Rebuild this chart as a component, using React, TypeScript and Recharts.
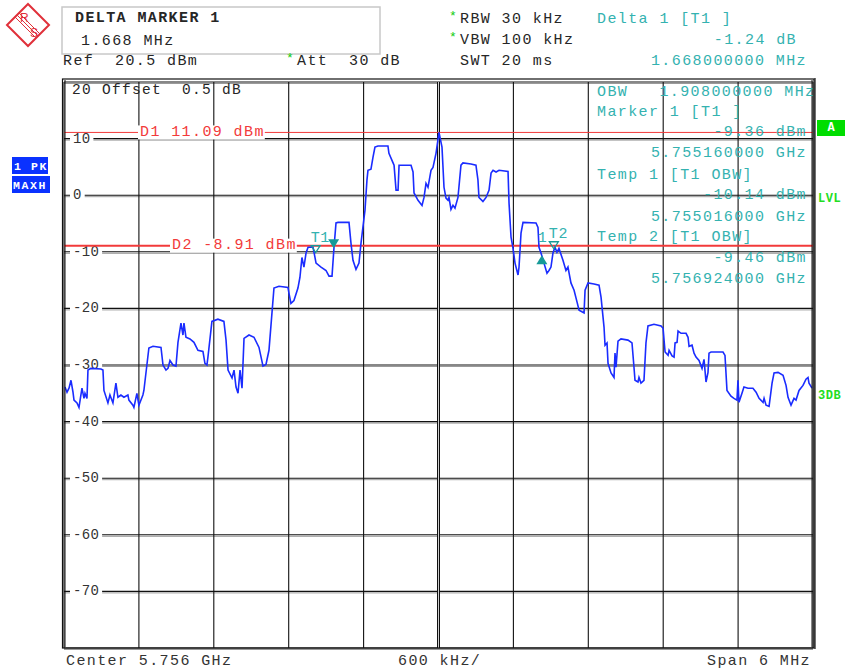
import { LineChart, Line, XAxis, YAxis, ReferenceLine, ReferenceDot } from "recharts";

// trace: frequency offset from centre (MHz) and level (dBm)
const FREQ_MHZ = [
  -2.992, -2.976, -2.96, -2.944, -2.928, -2.92, -2.896, -2.88, -2.856, -2.84,
  -2.832, -2.816, -2.808, -2.784, -2.704, -2.688, -2.68, -2.648, -2.632, -2.608,
  -2.584, -2.568, -2.544, -2.52, -2.488, -2.48, -2.448, -2.44, -2.416, -2.4,
  -2.368, -2.36, -2.32, -2.287, -2.223, -2.207, -2.183, -2.167, -2.151, -2.127,
  -2.103, -2.087, -2.063, -2.047, -2.039, -2.023, -1.991, -1.959, -1.927, -1.887,
  -1.871, -1.855, -1.847, -1.815, -1.767, -1.719, -1.702, -1.686, -1.654, -1.638,
  -1.622, -1.606, -1.59, -1.574, -1.558, -1.518, -1.478, -1.438, -1.406, -1.382,
  -1.358, -1.318, -1.278, -1.206, -1.198, -1.182, -1.158, -1.126, -1.11, -1.094,
  -1.078, -1.061, -1.045, -1.005, -0.997, -0.981, -0.941, -0.901, -0.877, -0.853,
  -0.837, -0.821, -0.805, -0.717, -0.701, -0.685, -0.661, -0.637, -0.621, -0.597,
  -0.589, -0.573, -0.565, -0.541, -0.525, -0.509, -0.485, -0.405, -0.397, -0.364,
  -0.356, -0.34, -0.324, -0.316, -0.22, -0.204, -0.196, -0.164, -0.132, -0.116,
  -0.1, -0.084, -0.06, -0.044, -0.02, 0.004, 0.028, 0.044, 0.06, 0.076,
  0.084, 0.1, 0.116, 0.132, 0.156, 0.18, 0.196, 0.26, 0.3, 0.316,
  0.324, 0.356, 0.381, 0.405, 0.421, 0.437, 0.461, 0.485, 0.557, 0.565,
  0.581, 0.597, 0.613, 0.637, 0.645, 0.661, 0.677, 0.781, 0.797, 0.805,
  0.821, 0.845, 0.869, 0.885, 0.901, 0.917, 0.933, 0.949, 0.965, 0.997,
  1.021, 1.037, 1.061, 1.086, 1.11, 1.126, 1.166, 1.174, 1.198, 1.246,
  1.286, 1.302, 1.326, 1.334, 1.35, 1.358, 1.382, 1.406, 1.414, 1.422,
  1.438, 1.462, 1.518, 1.55, 1.566, 1.574, 1.598, 1.606, 1.622, 1.646,
  1.662, 1.678, 1.726, 1.783, 1.799, 1.815, 1.839, 1.847, 1.871, 1.887,
  1.895, 1.911, 1.919, 1.943, 1.983, 1.999, 2.007, 2.031, 2.047, 2.063,
  2.087, 2.111, 2.127, 2.143, 2.159, 2.167, 2.183, 2.279, 2.295, 2.311,
  2.343, 2.367, 2.391, 2.399, 2.407, 2.431, 2.447, 2.479, 2.519, 2.544,
  2.568, 2.6, 2.608, 2.624, 2.648, 2.672, 2.688, 2.72, 2.76, 2.784,
  2.8, 2.824, 2.848, 2.864, 2.888, 2.92, 2.944, 2.96, 2.968, 2.992,
];

const LEVEL_DBM = [
  -33.9, -34.8, -34.1, -32.7, -34.8, -36.2, -36.7, -37.5, -34.1, -35.9,
  -35.0, -35.9, -30.9, -30.6, -30.7, -30.9, -34.5, -36.7, -35.3, -36.7,
  -33.2, -35.7, -35.3, -35.7, -35.3, -36.2, -37.1, -37.5, -35.0, -37.1,
  -35.3, -34.5, -27.0, -26.7, -26.9, -30.0, -30.9, -30.6, -29.2, -30.0,
  -30.2, -26.0, -22.6, -24.7, -22.6, -25.1, -25.4, -26.0, -27.4, -27.6,
  -29.7, -30.0, -28.6, -22.3, -21.9, -22.3, -25.6, -30.9, -32.3, -30.9,
  -33.9, -35.0, -30.9, -34.1, -25.3, -24.7, -25.1, -26.9, -30.2, -29.9,
  -27.4, -16.4, -16.1, -16.3, -17.3, -19.1, -18.6, -16.4, -14.5, -11.0,
  -12.7, -10.2, -9.2, -9.2, -10.1, -12.0, -12.7, -13.3, -14.3, -14.3,
  -9.2, -4.9, -4.8, -4.8, -8.5, -11.5, -13.1, -12.0, -8.5, -4.1,
  -2.7, 2.7, 4.4, 4.6, 6.7, 8.5, 8.7, 8.7, 7.4, 5.7,
  5.3, 0.9, 0.9, 5.3, 5.3, 4.1, 0.4, -0.9, -1.8, -0.4,
  2.1, 1.4, 4.4, 4.9, 7.4, 11.09, 8.5, 1.4, -0.5, -0.9,
  -0.4, -2.5, -1.8, -2.3, -0.4, 5.3, 5.7, 5.5, 5.3, 2.7,
  -0.4, -1.1, -0.4, 0.9, 3.9, 4.4, 4.1, 4.4, 4.2, -1.4,
  -7.4, -9.4, -12.0, -14.1, -12.7, -6.7, -4.8, -4.9, -5.7, -9.2,
  -10.2, -12.0, -13.8, -13.3, -12.7, -10.2, -9.2, -10.1, -9.4, -11.5,
  -13.3, -12.7, -15.5, -16.8, -18.9, -20.3, -20.8, -16.8, -15.5, -15.7,
  -15.9, -18.0, -23.3, -26.5, -26.1, -29.7, -31.4, -32.2, -27.9, -30.4,
  -25.8, -25.4, -25.6, -26.1, -30.4, -32.7, -33.0, -32.2, -33.2, -32.7,
  -26.1, -23.1, -22.8, -23.1, -23.5, -27.7, -28.3, -27.4, -28.4, -28.6,
  -26.1, -26.0, -24.0, -24.4, -24.4, -25.1, -26.7, -26.5, -27.9, -28.6,
  -29.2, -30.6, -29.0, -33.0, -31.3, -27.9, -27.7, -27.7, -28.3, -34.5,
  -35.5, -35.9, -36.2, -32.7, -36.6, -35.0, -33.9, -34.1, -34.1, -34.8,
  -35.9, -36.6, -35.9, -37.1, -37.3, -33.2, -31.4, -31.3, -31.8, -33.6,
  -35.7, -37.1, -35.9, -36.2, -34.5, -33.6, -32.5, -32.2, -33.2, -34.1,
];

const X_TICKS = [-3, -2.4, -1.8, -1.2, -0.6, 0, 0.6, 1.2, 1.8, 2.4, 3];
const Y_TICKS = [-80, -70, -60, -50, -40, -30, -20, -10, 0, 10, 20];
const Y_LABELS = [10, 0, -10, -20, -30, -40, -50, -60, -70];

// display lines D1 / D2
const DISPLAY_LINE_NAMES = ["D1", "D2"];
const DISPLAY_LINE_DBM = [11.09, -8.91];

// markers: T1, marker 1, delta 1, T2
const MARKER_LABELS = ["T1", "", "1", "T2"];
const MARKER_FREQ = [-0.984, -0.84, 0.828, 0.924];
const MARKER_DBM = [-10.14, -9.36, -10.6, -9.46];
const MARKER_SHAPES = ["open", "down", "up", "open"];

const data = FREQ_MHZ.map((f, i) => ({ f, dbm: LEVEL_DBM[i] }));

const MONO = "'Liberation Mono', 'DejaVu Sans Mono', monospace";
const TEAL = "#34b2b0";
const MARK_TEAL = "#179a98";
const RED = "#f23a3a";
const INK = "#262626";

function T({ x, y, children, anchor = "start", color = INK, weight = 400, size = 15, ls = 1.4 }: any) {
  return (
    <text
      x={x}
      y={y}
      textAnchor={anchor}
      dominantBaseline="central"
      fill={color}
      fontWeight={weight}
      fontSize={size}
      letterSpacing={ls}
      fontFamily={MONO}
      style={{ whiteSpace: "pre" }}
    >
      {children}
    </text>
  );
}

function yLabel(v: number) {
  const label = String(v);
  return (props: any) => {
    const vb = props.viewBox || {};
    const x0 = (vb.x ?? 0) + 9;
    const y0 = vb.y ?? 0;
    return (
      <g>
        <rect x={x0 - 3} y={y0 - 7} width={label.length * 8.7 + 6} height={14} fill="#fff" />
        <T x={x0} y={y0} size={14} ls={0.3} color="#333">{label}</T>
      </g>
    );
  };
}

function topLabel(props: any) {
  const vb = props.viewBox || {};
  const x0 = (vb.x ?? 0) + 8;
  const y0 = (vb.y ?? 0) + 8;
  return <T x={x0} y={y0} size={14.5} ls={1.3}>{"20 Offset  0.5 dB"}</T>;
}

function displayLineLabel(i: number) {
  const name = DISPLAY_LINE_NAMES[i];
  const text = `${name} ${DISPLAY_LINE_DBM[i].toFixed(2)} dBm`;
  const offset = i === 0 ? 76 : 108;
  return (props: any) => {
    const vb = props.viewBox || {};
    const x0 = (vb.x ?? 0) + offset;
    const y0 = vb.y ?? 0;
    return (
      <g>
        <rect x={x0 - 2} y={y0 - 7} width={text.length * 10.4 + 2} height={14} fill="#fff" />
        <T x={x0} y={y0} color={RED}>{text}</T>
      </g>
    );
  };
}

function markerShape(i: number) {
  const kind = MARKER_SHAPES[i];
  const label = MARKER_LABELS[i];
  return (props: any) => {
    const { cx, cy } = props;
    if (cx == null || cy == null) return null;
    let tri;
    if (kind === "open") {
      tri = (
        <polygon
          points={`${cx - 4.5},${cy - 7} ${cx + 4.5},${cy - 7} ${cx},${cy}`}
          fill="none"
          stroke={MARK_TEAL}
          strokeWidth={1.3}
        />
      );
    } else if (kind === "down") {
      tri = <polygon points={`${cx - 5.5},${cy - 9} ${cx + 5.5},${cy - 9} ${cx},${cy}`} fill={MARK_TEAL} />;
    } else {
      tri = <polygon points={`${cx - 5.5},${cy + 9} ${cx + 5.5},${cy + 9} ${cx},${cy}`} fill={MARK_TEAL} />;
    }
    const ly = kind === "up" ? cy - 17 : cy - 14;
    const lx = kind === "up" ? cx - 4 : cx - 5;
    return (
      <g>
        {tri}
        {label ? (
          <T x={lx} y={ly} color={TEAL} size={15} ls={0.6}>{label}</T>
        ) : null}
      </g>
    );
  };
}

function Logo() {
  return (
    <g>
      <polygon points="28,4 49,25 28,46 7,25" fill="#fff" stroke="#e0303a" strokeWidth={2} />
      <line x1={17} y1={15} x2={38} y2={36} stroke="#e0303a" strokeWidth={1} />
      <line x1={19} y1={13} x2={40} y2={34} stroke="#e0303a" strokeWidth={1} />
      <line x1={15} y1={17} x2={36} y2={38} stroke="#e0303a" strokeWidth={1} />
      <text x={20} y={22} fontSize={12} fill="#e0303a" fontFamily="'Liberation Sans', sans-serif">R</text>
      <text x={30} y={37} fontSize={12} fill="#e0303a" fontFamily="'Liberation Sans', sans-serif">S</text>
    </g>
  );
}

export default function App() {
  const W = 845;
  const H = 672;
  return (
    <div style={{ position: "absolute", left: 0, top: 0, width: W, height: H, background: "#fff" }}>
      <svg width={W} height={H} style={{ position: "absolute", left: 0, top: 0 }}>
        <Logo />
        <rect x={62} y={7} width={318} height={47} fill="#fff" stroke="#c8c8c8" strokeWidth={1.5} />
        <T x={75} y={18} weight={700}>DELTA MARKER 1</T>
        <T x={81} y={41}>1.668 MHz</T>
        <T x={63} y={61}>{"Ref  20.5 dBm"}</T>
        <T x={286} y={58} color="#11cc11" size={13} ls={0}>*</T>
        <T x={297} y={61}>{"Att  30 dB"}</T>
        <T x={449} y={16} color="#11cc11" size={13} ls={0}>*</T>
        <T x={460} y={19}>RBW 30 kHz</T>
        <T x={449} y={37} color="#11cc11" size={13} ls={0}>*</T>
        <T x={460} y={40}>VBW 100 kHz</T>
        <T x={460} y={61}>SWT 20 ms</T>
        <T x={597} y={19} color={TEAL}>{"Delta 1 [T1 ]"}</T>
        <T x={797} y={40} anchor="end" color={TEAL}>-1.24 dB</T>
        <T x={807} y={61} anchor="end" color={TEAL}>1.668000000 MHz</T>

        <rect x={12} y={157} width={36} height={17} fill="#0a32ff" />
        <T x={14} y={166} color="#fff" weight={700} size={11.5} ls={1.6}>1 PK</T>
        <rect x={12} y={176} width={38} height={17} fill="#0a32ff" />
        <T x={13} y={185} color="#fff" weight={700} size={11.5} ls={1.6}>MAXH</T>

        <rect x={817} y={120} width={28} height={16} fill="#00dd00" />
        <T x={831} y={128} anchor="middle" color="#fff" weight={700} size={12} ls={0}>A</T>
        <T x={818} y={199} color="#22dd22" weight={700} size={12} ls={0.5}>LVL</T>
        <T x={818} y={396} color="#22dd22" weight={700} size={12} ls={0.5}>3DB</T>

        <T x={66} y={661} color="#333">Center 5.756 GHz</T>
        <T x={398} y={661} color="#333">600 kHz/</T>
        <T x={811} y={661} anchor="end" color="#333">Span 6 MHz</T>
      </svg>

      <div style={{ position: "absolute", left: 0, top: 0 }}>
        <LineChart width={W} height={H} data={data} margin={{ top: 82, right: 32, bottom: 24, left: 64 }}>
          <XAxis dataKey="f" type="number" domain={[-3, 3]} ticks={X_TICKS} allowDataOverflow hide />
          <YAxis type="number" domain={[-80, 20]} ticks={Y_TICKS} allowDataOverflow hide />
          {Y_TICKS.map((v) => (
            <ReferenceLine key={`h${v}`} y={v} stroke="#9a9a9a" strokeWidth={1} transform="translate(0,1.5)" />
          ))}
          {Y_TICKS.map((v) => (
            <ReferenceLine key={`g${v}`} y={v} stroke="#111" strokeWidth={1.1} />
          ))}
          {X_TICKS.map((v) => (
            <ReferenceLine key={`v${v}`} x={v} stroke="#111" strokeWidth={1.1} />
          ))}
          <ReferenceLine x={0} stroke="#111" strokeWidth={3} />
          <ReferenceLine x={0} stroke="#fff" strokeWidth={0.8} />
          {Y_LABELS.map((v) => (
            <ReferenceLine key={`l${v}`} y={v} stroke="none" label={yLabel(v)} />
          ))}
          <ReferenceLine y={20} stroke="none" label={topLabel} />
          {DISPLAY_LINE_DBM.map((v, i) => (
            <ReferenceLine
              key={DISPLAY_LINE_NAMES[i]}
              y={v}
              stroke={RED}
              strokeWidth={i === 0 ? 1 : 2}
              label={displayLineLabel(i)}
            />
          ))}
          <Line
            type="linear"
            dataKey="dbm"
            stroke="#1a2cff"
            strokeWidth={1.6}
            dot={false}
            isAnimationActive={false}
          />
          {MARKER_FREQ.map((f, i) => (
            <ReferenceDot key={i} x={f} y={MARKER_DBM[i]} r={5} shape={markerShape(i)} />
          ))}
        </LineChart>
      </div>

      <svg width={W} height={H} style={{ position: "absolute", left: 0, top: 0, pointerEvents: "none" }}>
        <rect x={62.5} y={79} width={751.5} height={569} fill="none" stroke="#111" strokeWidth={1.2} />
        <line x1={65} y1={80} x2={65} y2={647} stroke="#111" strokeWidth={1} />
        <line x1={812} y1={80} x2={812} y2={647} stroke="#111" strokeWidth={1} />
        <line x1={815} y1={78} x2={815} y2={649} stroke="#111" strokeWidth={1.2} />
        <T x={597} y={92} color={TEAL}>{"OBW   1.908000000 MHz"}</T>
        <T x={597} y={112} color={TEAL}>{"Marker 1 [T1 ]"}</T>
        <T x={807} y={132} anchor="end" color={TEAL}>-9.36 dBm</T>
        <T x={807} y={153} anchor="end" color={TEAL}>5.755160000 GHz</T>
        <T x={597} y={175} color={TEAL}>{"Temp 1 [T1 OBW]"}</T>
        <T x={807} y={195} anchor="end" color={TEAL}>-10.14 dBm</T>
        <T x={807} y={217} anchor="end" color={TEAL}>5.755016000 GHz</T>
        <T x={597} y={237} color={TEAL}>{"Temp 2 [T1 OBW]"}</T>
        <T x={807} y={258} anchor="end" color={TEAL}>-9.46 dBm</T>
        <T x={807} y={279} anchor="end" color={TEAL}>5.756924000 GHz</T>
      </svg>
    </div>
  );
}
